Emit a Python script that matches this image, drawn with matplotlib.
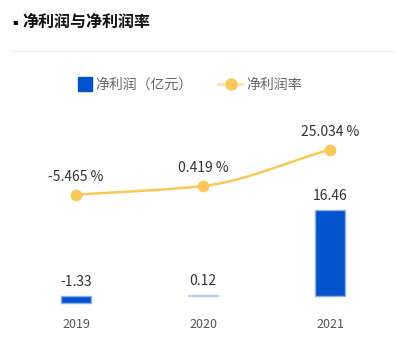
import numpy as np
import matplotlib.pyplot as plt
from matplotlib.lines import Line2D

plt.rcParams['font.family'] = ['Noto Sans CJK SC', 'DejaVu Sans']

years = ['2019', '2020', '2021']
profit = [-1.33, 0.12, 16.46]          # 净利润（亿元）
margin = [-5.465, 0.419, 25.034]       # 净利润率 %

W, H = 407, 347
fig = plt.figure(figsize=(W / 100, H / 100), dpi=100)


def fx(px):
    return px / W


def fy(py):
    return 1 - py / H


def smooth_curve(xv, yv, n=40):
    # monotone cubic hermite, just for drawing a smooth line through the points
    xv = np.asarray(xv, float)
    yv = np.asarray(yv, float)
    d = np.diff(yv) / np.diff(xv)
    m = np.empty_like(yv)
    m[0], m[-1] = d[0], d[-1]
    for i in range(1, len(yv) - 1):
        m[i] = 0 if d[i - 1] * d[i] <= 0 else 2 * d[i - 1] * d[i] / (d[i - 1] + d[i])
    xs, ys = [], []
    for i in range(len(xv) - 1):
        h = xv[i + 1] - xv[i]
        t = np.linspace(0, 1, n)
        h00 = 2 * t**3 - 3 * t**2 + 1
        h10 = t**3 - 2 * t**2 + t
        h01 = -2 * t**3 + 3 * t**2
        h11 = t**3 - t**2
        xs.append(xv[i] + t * h)
        ys.append(h00 * yv[i] + h10 * h * m[i] + h01 * yv[i + 1] + h11 * h * m[i + 1])
    return np.concatenate(xs), np.concatenate(ys)


# plot area: x from 12.5 to 393.5 px, y from 100 to 305 px (top-down)
ax = fig.add_axes([fx(12.5), fy(305), fx(381), 205 / H])
x = np.arange(len(years))
bar_colors = ['#0353cc', '#b8cdee', '#0353cc']
edge_colors = ['#8fb0e6', '#b8cdee', '#8fb0e6']
ax.bar(x, profit, width=0.236, color=bar_colors, edgecolor=edge_colors, linewidth=1)
ax.set_xlim(-0.5, 2.5)
ax.set_ylim(-1.72, 37.5)
for xi, v in zip(x, profit):
    top = max(v, 0)
    ax.annotate(f'{v:.2f}', (xi, top), xytext=(0, 7), textcoords='offset pixels',
                ha='center', va='bottom', fontsize=10, color='#333333')
ax.set_xticks(x)
ax.set_xticklabels(years, fontsize=9, color='#555555')
ax.tick_params(axis='x', length=0, pad=9)
ax.set_yticks([])
for s in ax.spines.values():
    s.set_visible(False)

# line on its own scale
ax2 = ax.twinx()
ax2.set_ylim(-80, 58.5)
xs, ys = smooth_curve(x, margin)
ax2.plot(xs, ys, color='#fac858', lw=1.8, zorder=3)
ax2.scatter(x, margin, s=55, color='#fac858', zorder=4)
for xi, v in zip(x, margin):
    ax2.annotate(f'{v:.3f} %', (xi, v), xytext=(0, 11), textcoords='offset pixels',
                 ha='center', va='bottom', fontsize=10, color='#333333')
ax2.set_yticks([])
for s in ax2.spines.values():
    s.set_visible(False)

# title and separator
fig.text(fx(12), fy(22), '▪', fontsize=6, color='#000000', va='center', ha='left',
         family=['DejaVu Sans'])
fig.text(fx(22), fy(22), '净利润与净利润率', fontsize=11.5, fontweight='bold',
         color='#111111', va='center', ha='left')
fig.add_artist(Line2D([fx(13), fx(393)], [fy(51), fy(51)], color='#eeeeee', lw=1))

# legend, two pieces so each handle gets its own length
bar_handle = Line2D([], [], ls='none', marker='s', markersize=10, color='#0353cc',
                    label='净利润（亿元）')
line_handle = Line2D([], [], color='#fde3a7', lw=2, marker='o', markersize=8,
                     markerfacecolor='#fac858', markeredgecolor='#fac858', label='净利润率')
leg_opts = dict(loc='center left', frameon=False, fontsize=10, borderpad=0,
                borderaxespad=0, handletextpad=0.25)
leg1 = fig.legend(handles=[bar_handle], bbox_to_anchor=(fx(78), fy(84.5)),
                  handlelength=1.0, **leg_opts)
leg2 = fig.legend(handles=[line_handle], bbox_to_anchor=(fx(218), fy(84.5)),
                  handlelength=1.8, **leg_opts)
for leg in (leg1, leg2):
    for t in leg.get_texts():
        t.set_color('#666666')

fig.savefig('out.png', dpi=100)
